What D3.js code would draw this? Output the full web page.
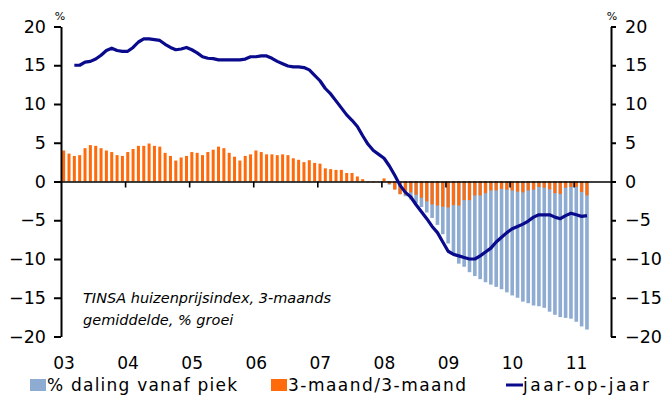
<!DOCTYPE html>
<html>
<head>
<meta charset="utf-8">
<script src="https://cdn.jsdelivr.net/npm/d3@7"></script>
<style>
  body { margin: 0; background: #fff; }
  svg { display: block; font-family: "DejaVu Sans", Verdana, sans-serif; }
</style>
</head>
<body>
<div class="chart"></div>
<script>
// monthly data, Jan 2003 .. Mar 2011
const yearLabels = ["03", "04", "05", "06", "07", "08", "09", "10", "11"];

// 3-maand/3-maand
const threeMonth = [
  4.0, 3.6, 3.3, 3.4, 4.3, 4.7, 4.6, 4.3, 4.0, 3.8, 3.4, 3.3,
  3.8, 4.2, 4.6, 4.6, 4.9, 4.6, 4.5, 3.7, 3.3, 2.7, 3.1, 3.3,
  3.8, 3.7, 3.4, 3.8, 4.1, 4.5, 4.3, 3.7, 3.2, 2.7, 3.3, 3.5,
  4.0, 3.8, 3.5, 3.5, 3.4, 3.5, 3.4, 3.0, 2.8, 2.5, 2.75, 2.4,
  2.3, 1.7, 1.6, 1.5, 1.5, 1.1, 1.1, 0.65, 0.3, -0.1, -0.1, -0.05,
  0.4, -0.3, -1.05, -1.65, -1.7, -1.4, -1.7, -2.1, -2.55, -2.95, -3.1, -3.25,
  -3.35, -3.05, -3.1, -2.4, -2.4, -1.8, -1.8, -1.5, -1.15, -1.15, -0.95, -1.05,
  -1.15, -1.3, -1.4, -1.15, -1.05, -0.7, -0.8, -1.0, -1.5, -1.6, -0.8, -0.7,
  -0.7, -1.35, -1.8
];

// % daling vanaf piek (starts Feb 2008)
const fromPeak = [
  -0.4, -1.0, -1.6, -1.9, -2.3, -2.8, -3.3, -4.0, -4.7, -5.6, -6.8,
  -8.0, -9.3, -10.6, -11.0, -11.7, -12.2, -12.6, -13.0, -13.3, -13.6, -13.9, -14.3,
  -14.7, -15.0, -15.5, -15.7, -16.0, -16.1, -16.3, -16.8, -17.2, -17.5, -17.6, -17.7,
  -18.1, -18.7, -19.1
];
const fromPeakStart = 61;

// jaar-op-jaar (starts Mar 2003)
const yearOnYear = [
  15.0, 15.0, 15.4, 15.5, 15.8, 16.3, 16.9, 17.2, 16.9, 16.8,
  16.8, 17.3, 18.0, 18.4, 18.4, 18.3, 18.2, 17.7, 17.3, 17.0, 17.1, 17.3,
  17.0, 16.6, 16.1, 15.9, 15.85, 15.7, 15.7, 15.7, 15.7, 15.7, 15.8, 16.1,
  16.1, 16.2, 16.2, 15.9, 15.5, 15.2, 14.9, 14.8, 14.8, 14.7, 14.4, 13.7,
  13.0, 12.0, 11.3, 10.4, 9.5, 8.6, 7.9, 7.1, 5.9, 4.8, 4.0, 3.5,
  3.0, 2.0, 0.8, -0.5, -1.4, -2.0, -3.0, -3.9, -4.8, -5.8, -6.6, -7.8,
  -9.0, -9.4, -9.6, -9.8, -10.0, -10.0, -9.6, -9.1, -8.6, -7.8, -7.2, -6.6,
  -6.1, -5.8, -5.5, -5.1, -4.6, -4.3, -4.3, -4.3, -4.6, -4.8, -4.4, -4.1,
  -4.3, -4.5, -4.4
];
const yearOnYearStart = 2;

const yTicks = [-20, -15, -10, -5, 0, 5, 10, 15, 20];

(function () {
  const W = 664, H = 405;
  const plot = {left: 61, right: 611, top: 26.5, bottom: 336.5};

  const svg = d3.select(".chart").append("svg")
    .attr("width", W).attr("height", H);

  const x = d3.scaleLinear().domain([0, 103]).range([plot.left, plot.right]);
  const y = d3.scaleLinear().domain([-20, 20]).range([plot.bottom, plot.top]);

  const blueData = fromPeak.map((v, i) => ({i: i + fromPeakStart, v}));
  const orangeData = threeMonth.map((v, i) => ({i, v}));
  const lineData = yearOnYear.map((v, i) => ({i: i + yearOnYearStart, v}));

  // bars
  const bw = 3.6, ow = 3.0;
  svg.append("g").selectAll("rect")
    .data(blueData).enter().append("rect")
    .attr("x", d => x(d.i + 0.5) - bw / 2)
    .attr("width", bw)
    .attr("y", d => Math.min(y(0), y(d.v)))
    .attr("height", d => Math.abs(y(d.v) - y(0)))
    .attr("fill", "#8eabd1");

  svg.append("g").selectAll("rect")
    .data(orangeData).enter().append("rect")
    .attr("x", d => x(d.i + 0.5) - ow / 2)
    .attr("width", ow)
    .attr("y", d => Math.min(y(0), y(d.v)))
    .attr("height", d => Math.abs(y(d.v) - y(0)))
    .attr("fill", "#ff6a0a");

  // zero line with year ticks
  const xAxis = svg.append("g")
    .attr("transform", `translate(0,${y(0)})`)
    .call(d3.axisBottom(x).tickValues(d3.range(12, 100, 12)).tickSize(6).tickSizeOuter(0).tickFormat(""));
  xAxis.selectAll("path, line").attr("stroke", "#000").attr("stroke-width", 1.6);

  // year labels
  svg.append("g").selectAll("text")
    .data(yearLabels).enter().append("text")
    .attr("x", (d, i) => x(i * 12) + 3)
    .attr("y", 369)
    .attr("text-anchor", "middle")
    .style("font-size", "17px")
    .text(d => d);

  // line
  svg.append("path")
    .datum(lineData)
    .attr("fill", "none")
    .attr("stroke", "#0a0a8c")
    .attr("stroke-width", 3.2)
    .attr("stroke-linejoin", "round")
    .attr("d", d3.line().x(d => x(d.i + 0.5)).y(d => y(d.v)));

  // y axes
  const yl = svg.append("g")
    .attr("transform", `translate(${plot.left},0)`)
    .call(d3.axisLeft(y).tickValues(yTicks).tickSize(7).tickPadding(8).tickSizeOuter(0));
  const yr = svg.append("g")
    .attr("transform", `translate(${plot.right},0)`)
    .call(d3.axisRight(y).tickValues(yTicks).tickSize(5).tickPadding(9).tickSizeOuter(0));
  [yl, yr].forEach(g => {
    g.selectAll("path, line").attr("stroke", "#000").attr("stroke-width", 2);
    g.selectAll("text").style("font-size", "17.5px").attr("fill", "#000")
      .style("font-family", "'DejaVu Sans', Verdana, sans-serif");
  });

  // % labels
  svg.append("text").attr("x", 60).attr("y", 20).attr("text-anchor", "middle")
    .style("font-size", "11px").text("%");
  svg.append("text").attr("x", 612).attr("y", 20).attr("text-anchor", "middle")
    .style("font-size", "11px").text("%");

  // note
  svg.append("text").attr("x", 83).attr("y", 303)
    .style("font-size", "14.5px").style("font-style", "italic")
    .text("TINSA huizenprijsindex, 3-maands");
  svg.append("text").attr("x", 83).attr("y", 325)
    .style("font-size", "14.5px").style("font-style", "italic")
    .text("gemiddelde, % groei");

  // legend
  const legend = [
    {label: "% daling vanaf piek", color: "#8eabd1", type: "rect", x: 30, len: 190},
    {label: "3-maand/3-maand", color: "#ff6a0a", type: "rect", x: 271, len: 178},
    {label: "jaar-op-jaar", color: "#0a0a8c", type: "line", x: 506, len: 126}
  ];
  const lg = svg.append("g");
  legend.forEach(d => {
    if (d.type === "rect") {
      lg.append("rect").attr("x", d.x).attr("y", 379).attr("width", 16).attr("height", 12)
        .attr("fill", d.color);
    } else {
      lg.append("line").attr("x1", d.x).attr("x2", d.x + 17).attr("y1", 385).attr("y2", 385)
        .attr("stroke", d.color).attr("stroke-width", 3);
    }
    lg.append("text").attr("x", d.x + 17).attr("y", 391)
      .attr("textLength", d.len).attr("lengthAdjust", "spacing")
      .style("font-size", "17px").text(d.label);
  });
})();
</script>
</body>
</html>
